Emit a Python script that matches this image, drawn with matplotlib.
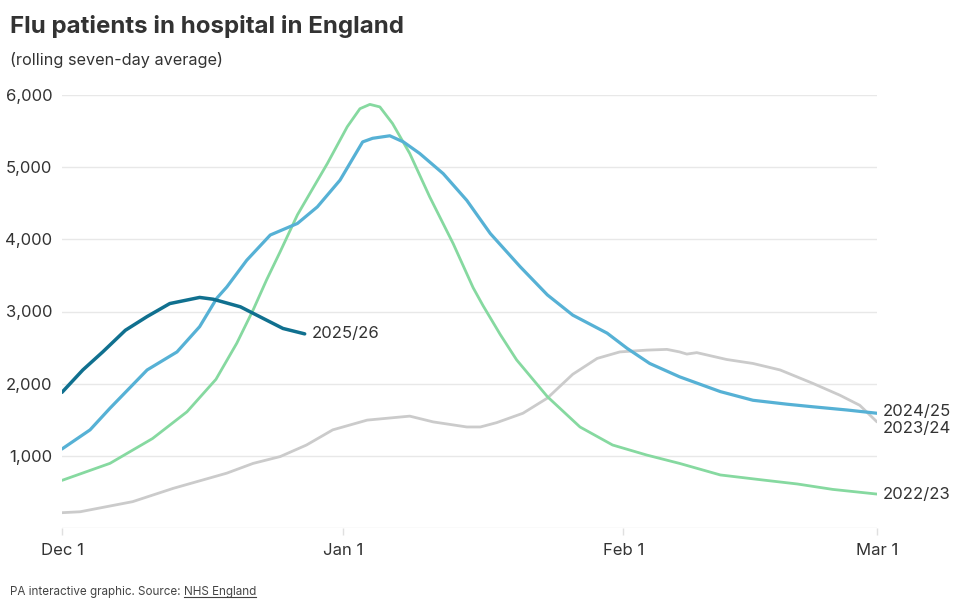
import matplotlib.pyplot as plt

plt.rcParams['font.family'] = ['Inter', 'DejaVu Sans']

# days since Dec 1
days_2526 = [0, 2.3, 4.5, 7, 9.4, 11.9, 15.2, 16.7, 19.7, 22.2, 24.4, 26.8]
vals_2526 = [1880, 2190, 2440, 2740, 2930, 3110, 3195, 3170, 3065, 2905, 2765, 2690]

days_2425 = [0, 3.1, 5.3, 9.4, 12.7, 15.2, 17.1, 18.2, 20.4, 23, 26, 28.2, 30.7,
             33.2, 34.3, 36.2, 37.7, 39.5, 42.1, 44.7, 47.3, 50.6, 53.6, 56.4,
             60.2, 62.4, 64.9, 68.2, 72.7, 76.3, 80.1, 82.9, 86.7, 90]
vals_2425 = [1095, 1360, 1660, 2190, 2440, 2790, 3185, 3340, 3710, 4060, 4220, 4450, 4820,
             5350, 5400, 5435, 5350, 5190, 4910, 4540, 4080, 3620, 3230, 2950,
             2700, 2490, 2280, 2095, 1890, 1770, 1715, 1680, 1635, 1590]

days_2324 = [0, 2, 7.8, 12.3, 18.2, 21.1, 24.1, 27, 29.9, 33.7, 38.4, 41, 44.7,
             46.2, 48, 50.9, 53.6, 56.4, 59.1, 61.6, 64.6, 66.8, 68.2, 69, 70.1,
             73.4, 76.3, 79.3, 82.9, 85.9, 88.1, 90]
vals_2324 = [212, 225, 365, 550, 760, 895, 990, 1150, 1360, 1495, 1550, 1470, 1400,
             1400, 1460, 1590, 1800, 2130, 2350, 2440, 2465, 2475, 2440, 2410, 2430,
             2335, 2280, 2190, 2005, 1840, 1700, 1470]

days_2223 = [0, 5.3, 10, 13.8, 17, 19.3, 21.1, 22.6, 24.1, 26, 29.3, 31.5, 32.9,
             34, 35.1, 36.5, 38.4, 40.6, 43.2, 45.4, 46.5, 48.4, 50.2, 53.6,
             57.2, 60.8, 64.6, 68.2, 72.7, 77.4, 81.2, 85.1, 90]
vals_2223 = [660, 896, 1240, 1610, 2060, 2560, 3020, 3440, 3830, 4340, 5050, 5560, 5810,
             5870, 5835, 5605, 5190, 4590, 3940, 3330, 3080, 2680, 2330, 1820,
             1400, 1150, 1010, 895, 735, 665, 610, 535, 470]

tick_days = [0, 31, 62, 90]
tick_labels = ['Dec 1', 'Jan 1', 'Feb 1', 'Mar 1']
y_ticks = [0, 1000, 2000, 3000, 4000, 5000, 6000]

text_col = '#333333'

fig = plt.figure(figsize=(9.6, 6.11), dpi=100)
ax = fig.add_axes([62 / 960, 1 - 528 / 611, (877 - 62) / 960, (528 - 95) / 611])

ax.plot(days_2324, vals_2324, color='#cbcbcb', lw=2.0, solid_capstyle='round')
ax.plot(days_2223, vals_2223, color='#86d9a0', lw=2.0, solid_capstyle='round')
ax.plot(days_2425, vals_2425, color='#56b1d5', lw=2.3, solid_capstyle='round')
ax.plot(days_2526, vals_2526, color='#10708f', lw=2.5, solid_capstyle='round')

ax.set_xlim(0, 90)
ax.set_ylim(0, 6000)
for s in ax.spines.values():
    s.set_visible(False)

ax.set_yticks(y_ticks)
ax.set_yticklabels([''] + ['{:,}'.format(v) for v in y_ticks[1:]])
ax.yaxis.grid(True, color='#e8e8e8', lw=1)
ax.tick_params(axis='y', length=0, pad=7, labelsize=12, labelcolor=text_col)

ax.set_xticks(tick_days)
ax.set_xticklabels(tick_labels)
ax.tick_params(axis='x', length=5, width=1, color='#e0e0e0', pad=6,
               labelsize=12, labelcolor=text_col)
ax.set_axisbelow(True)

# series labels
ax.text(days_2526[-1] + 0.8, vals_2526[-1], '2025/26', fontsize=12, color=text_col,
        va='center', ha='left')
ax.text(90.6, 1620, '2024/25', fontsize=12, color=text_col, va='center', ha='left', clip_on=False)
ax.text(90.6, 1380, '2023/24', fontsize=12, color=text_col, va='center', ha='left', clip_on=False)
ax.text(90.6, 470, '2022/23', fontsize=12, color=text_col, va='center', ha='left', clip_on=False)

fig.text(10 / 960, 1 - 27 / 611, 'Flu patients in hospital in England', fontsize=17.3,
         fontweight='bold', color=text_col, va='center', ha='left')
fig.text(10 / 960, 1 - 60 / 611, '(rolling seven-day average)', fontsize=11.7,
         color=text_col, va='center', ha='left')

# footer with underlined source
foot = fig.text(10 / 960, 1 - 592 / 611, 'PA interactive graphic. Source: ', fontsize=8.4,
                color='#444444', va='center', ha='left')
fig.canvas.draw()
bb = foot.get_window_extent()
link = fig.text(bb.x1 / 960, 1 - 592 / 611, 'NHS England', fontsize=8.4, color='#444444',
                va='center', ha='left')
fig.canvas.draw()
bb2 = link.get_window_extent()
fig.add_artist(plt.Line2D([bb2.x0 / 960, bb2.x1 / 960], [(bb2.y0 + 1) / 611] * 2,
                          color='#444444', lw=0.8))

fig.savefig('out.png', dpi=100)
